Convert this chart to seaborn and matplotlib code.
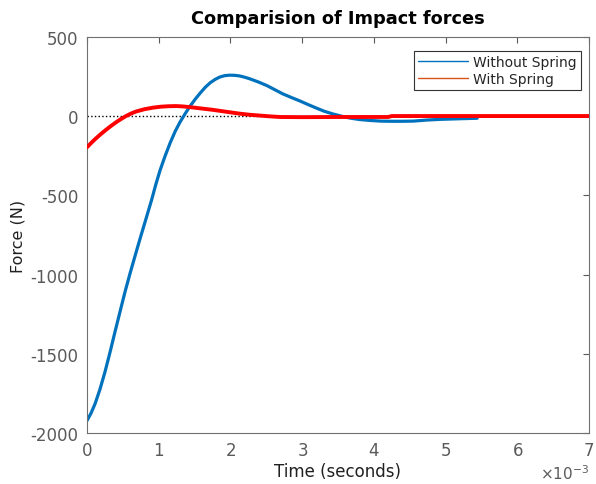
import numpy as np
import pandas as pd
import matplotlib
matplotlib.use("Agg")
import matplotlib.pyplot as plt
import seaborn as sns
from matplotlib.ticker import ScalarFormatter
from matplotlib.lines import Line2D

# ---- data (time in milliseconds, force in N) ----
t_without_ms = [0, 0.056, 0.112, 0.18, 0.251, 0.32, 0.39, 0.46, 0.53, 0.60, 0.67,
                0.74, 0.81, 0.90, 0.96, 1.02, 1.09, 1.16, 1.23, 1.30, 1.37, 1.44,
                1.51, 1.58, 1.65, 1.72, 1.79, 1.85, 1.92, 1.99, 2.06, 2.13, 2.20,
                2.27, 2.39, 2.51, 2.62, 2.73, 2.85, 2.97, 3.08, 3.20, 3.31, 3.43,
                3.55, 3.67, 3.80, 3.95, 4.10, 4.23, 4.40, 4.55, 4.75, 4.92, 5.20,
                5.44]
f_without = [-1922, -1875, -1816, -1725, -1614, -1492, -1362, -1235, -1109, -993, -882,
             -773, -667, -530, -430, -340, -250, -168, -95, -35, 17, 65,
             108, 147, 183, 212, 233, 247, 256, 259, 258, 254, 246,
             236, 216, 193, 167, 141, 118, 96, 74, 51, 31, 14,
             0, -12, -21, -27, -31, -32, -32, -31, -24, -20, -16,
             -13]

t_with_ms = [0, 0.06, 0.125, 0.19, 0.265, 0.33, 0.40, 0.47, 0.54, 0.61, 0.68,
             0.80, 0.92, 1.03, 1.14, 1.24, 1.33, 1.44, 1.59, 1.74, 1.85, 1.99,
             2.13, 2.27, 2.41, 2.55, 2.69, 3.00, 3.50, 4.20, 4.25, 5.00, 6.00,
             7.00]
f_with = [-196, -168, -140, -114, -86, -63, -40, -19, 0, 16, 29,
          44, 54, 60, 63, 64, 62, 57, 49, 41, 34, 25,
          16, 9, 4, -1, -5, -6, -5, -5, 1, 1, 1,
          1]

legend_labels = ["Without Spring", "With Spring"]
title = "Comparision of Impact forces"
xlabel = "Time (seconds)"
ylabel = "Force (N)"
xticks_s = [0, 0.001, 0.002, 0.003, 0.004, 0.005, 0.006, 0.007]
yticks = [-2000, -1500, -1000, -500, 0, 500]

sns.set_theme(style="white")
plt.rcParams["font.family"] = ["DejaVu Sans"]
plt.rcParams["axes.unicode_minus"] = False

df_without = pd.DataFrame({"t": np.array(t_without_ms) * 1e-3, "F": f_without})
df_with = pd.DataFrame({"t": np.array(t_with_ms) * 1e-3, "F": f_with})

fig = plt.figure(figsize=(5.96, 4.85), dpi=100)
ax = fig.add_axes([87 / 596, 1 - 434 / 485, 502 / 596, 396 / 485])

ax.axhline(0, color="black", ls=":", lw=1.0, zorder=1)
sns.lineplot(data=df_without, x="t", y="F", color="#0072BD", lw=2.3, ax=ax,
             sort=False, estimator=None, legend=False, zorder=2)
sns.lineplot(data=df_with, x="t", y="F", color="#FF0000", lw=2.8, ax=ax,
             sort=False, estimator=None, legend=False, zorder=3)

ax.set_xlim(0, 0.007)
ax.set_ylim(-2000, 500)
ax.set_xticks(xticks_s)
ax.set_yticks(yticks)
fmt = ScalarFormatter(useMathText=True)
fmt.set_powerlimits((-2, 2))
ax.xaxis.set_major_formatter(fmt)

grey = "#5a5a5a"
ax.tick_params(direction="in", top=True, right=True, length=4, width=0.8,
               colors=grey, labelsize=12, pad=6)
ax.xaxis.get_offset_text().set_fontsize(11)
ax.xaxis.get_offset_text().set_color(grey)
for s in ax.spines.values():
    s.set_color("#707070")
    s.set_linewidth(0.8)

ax.set_title(title, fontsize=12.8, fontweight="bold", color="black", pad=10)
ax.set_xlabel(xlabel, fontsize=12, color="#202020", labelpad=2)
ax.set_ylabel(ylabel, fontsize=11.5, color="#202020", labelpad=4)

handles = [Line2D([0], [0], color="#0072BD", lw=1.0),
           Line2D([0], [0], color="#D95319", lw=1.0)]
leg = ax.legend(handles, legend_labels, loc="upper right",
                bbox_to_anchor=(581 / 596, 1 - 52 / 485),
                bbox_transform=fig.transFigure, borderaxespad=0,
                fontsize=10, handlelength=3.6, handletextpad=0.35,
                borderpad=0.3, labelspacing=0.2, fancybox=False,
                framealpha=1, edgecolor="#333333")
leg.get_frame().set_linewidth(0.8)

fig.savefig("out.png", dpi=100)
